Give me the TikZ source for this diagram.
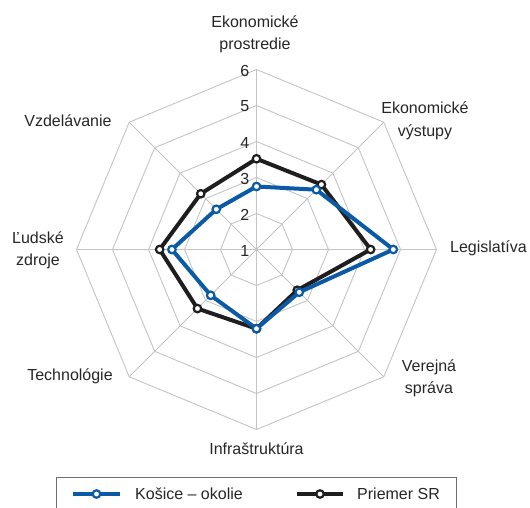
\documentclass[tikz,border=0pt]{standalone}
\usepackage{fontspec}
\usetikzlibrary{calc}
\setmainfont{Liberation Sans}
\definecolor{serblue}{HTML}{0B5AA6}
\definecolor{serblack}{HTML}{1E1E1E}
\definecolor{gridc}{HTML}{C4C4C4}
\definecolor{txt}{HTML}{262626}
\definecolor{legc}{HTML}{6E6E6E}
\newcommand{\twoline}[2]{\begin{tabular}[t]{@{}c@{}}#1\\#2\end{tabular}}
\begin{document}
\begin{tikzpicture}[x=1pt,y=-1pt,
  font=\fontsize{16}{22}\selectfont,
  grid/.style={draw=gridc, line width=0.9pt},
  lab/.style={text=txt, inner sep=0pt, anchor=base},
  ticklab/.style={text=txt, inner sep=0pt, anchor=east},
  serline/.style={line width=4pt, line join=round},
  mk/.style={circle, draw=#1, fill=white, line width=2.2pt, minimum size=7.5pt, inner sep=0pt},
]
\useasboundingbox (0,0) rectangle (530,508);
\begin{scope}[shift={(256.5,249.5)}]
  \coordinate (c) at (0,0);
  % rings
  \foreach \v in {1,...,5} {
    \draw[grid] (-90:36*\v) -- (-45:36*\v) -- (0:36*\v) -- (45:36*\v) -- (90:36*\v) -- (135:36*\v) -- (180:36*\v) -- (225:36*\v) -- cycle;
  }
  % spokes
  \foreach \k in {0,...,7} {
    \coordinate (e\k) at (-90+45*\k:180);
    \draw[grid] (c) -- (e\k);
  }
  % tick labels
  \foreach \v in {1,...,6} {
    \node[ticklab] (t\v) at (-7,{-36*(\v-1)+1}) {\v};
  }
  % data
  \foreach \val [count=\k from 0] in {3.52,3.55,4.17,2.6,3.2,3.32,3.69,3.19} {
    \coordinate (k\k) at (-90+45*\k:{36*(\val-1)});
  }
  \foreach \val [count=\k from 0] in {2.75,3.35,4.8,2.68,3.2,2.8,3.35,2.58} {
    \coordinate (b\k) at (-90+45*\k:{36*(\val-1)});
  }
  \draw[serline, serblack] (k0) -- (k1) -- (k2) -- (k3) -- (k4) -- (k5) -- (k6) -- (k7) -- cycle;
  \draw[serline, serblue] (b0) -- (b1) -- (b2) -- (b3) -- (b4) -- (b5) -- (b6) -- (b7) -- cycle;
  \foreach \k in {0,...,7} { \node[mk=serblack] (km\k) at (k\k) {}; }
  \foreach \k in {0,...,7} { \node[mk=serblue] (bm\k) at (b\k) {}; }
\end{scope}
% axis labels
\node[lab] (l0) at (255,27.3) {\twoline{Ekonomické}{prostredie}};
\node[lab] (l1) at (425,114) {\twoline{Ekonomické}{výstupy}};
\node[lab, anchor=base west] (l2) at (450,252.7) {Legislatíva};
\node[lab] (l3) at (429,371.7) {\twoline{Verejná}{správa}};
\node[lab] (l4) at (256.5,454.3) {Infraštruktúra};
\node[lab] (l5) at (70,380.3) {Technológie};
\node[lab] (l6) at (38,243.3) {\twoline{Ľudské}{zdroje}};
\node[lab] (l7) at (68,126.7) {Vzdelávanie};
% legend
\draw[draw=legc, line width=0.8pt] (56.5,477.5) rectangle (456,530);
\coordinate (la1) at (73,494);
\coordinate (la2) at (120,494);
\coordinate (lb1) at (297,494);
\coordinate (lb2) at (343,494);
\draw[serline, serblue] (la1) -- (la2);
\node[mk=serblue] (lam) at ($(la1)!0.5!(la2)$) {};
\node[lab, anchor=west] (lat) at (135,494) {Košice – okolie};
\draw[serline, serblack] (lb1) -- (lb2);
\node[mk=serblack] (lbm) at ($(lb1)!0.5!(lb2)$) {};
\node[lab, anchor=west] (lbt) at (357,494) {Priemer SR};
\end{tikzpicture}
\end{document}
